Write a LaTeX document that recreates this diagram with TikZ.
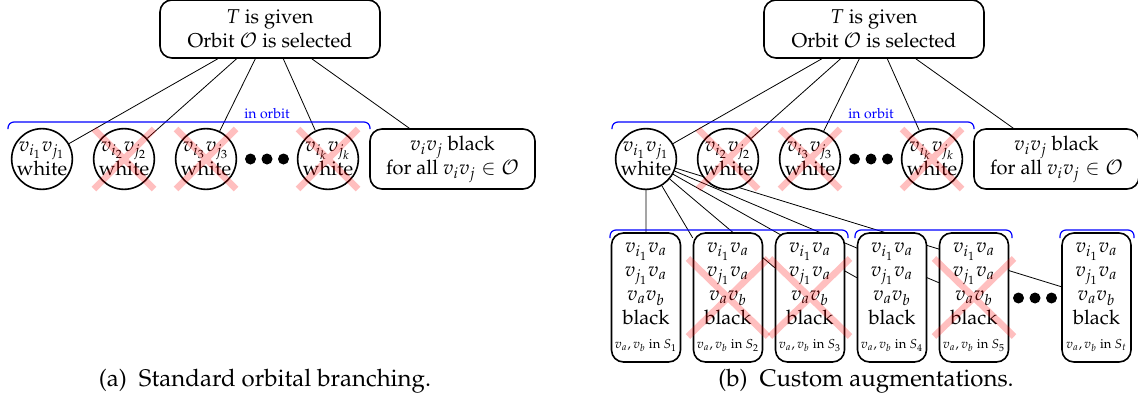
\documentclass[tikz,border=0pt]{standalone}
\usepackage{amsmath, amssymb}
\usepackage[T1]{fontenc}
\usepackage{mathpazo}
\usepackage{tikz}
\usetikzlibrary{backgrounds}

\newcommand{\augtiny}{\fontsize{6.5}{7.5}\selectfont}

\tikzset{
    topbox/.style={draw, thick, rounded corners=6pt, fill=white, align=center,
        minimum width=110pt, minimum height=29pt, inner sep=2pt},
    wnode/.style={draw, thick, circle, fill=white, align=center,
        minimum size=30pt, inner sep=0pt},
    blkbox/.style={draw, thick, rounded corners=6pt, fill=white, align=center,
        minimum width=82.5pt, minimum height=30pt},
    augbox/.style={draw, thick, rounded corners=6pt, fill=white, align=center,
        minimum width=34.5pt, minimum height=64.5pt, inner sep=1pt},
    orbitbrace/.style={blue, semithick, rounded corners=3pt},
    crossout/.style={red, opacity=0.25, line width=3.3pt},
    subcap/.style={font=\fontsize{12}{14}\selectfont},
}

\begin{document}
\begin{tikzpicture}[x=5pt, y=5pt]
    \useasboundingbox (0,0) rectangle (113.8,40.8);

    % (a) standard orbital branching
    \begin{scope}
        \node[topbox] (a-top) at (27.0,37.9) {$T$ is given\\Orbit $\mathcal{O}$ is selected};
        \node[wnode] (a-c1) at (4.2,24.9) {$v_{i_1}v_{j_1}$\\white};
        \node[wnode] (a-c2) at (12.4,24.9) {$v_{i_2}v_{j_2}$\\white};
        \node[wnode] (a-c3) at (20.6,24.9) {$v_{i_3}v_{j_3}$\\white};
        \node[wnode] (a-ck) at (32.8,24.9) {$v_{i_k}v_{j_k}$\\white};
        \node[blkbox] (a-blk) at (45.25,24.9) {$v_iv_j$ black\\for all $v_iv_j \in \mathcal{O}$};
        \fill (25.05,24.9) circle (0.55) (26.7,24.9) circle (0.55) (28.35,24.9) circle (0.55);

        \begin{pgfonlayer}{background}
            \draw (a-top) -- (a-c1) (a-top) -- (a-c2) (a-top) -- (a-c3)
                  (a-top) -- (a-ck) (a-top) -- (a-blk);
        \end{pgfonlayer}

        % orbit
        \draw[orbitbrace] (0.8,27.9) -- (0.8,28.6) -- (37.0,28.6) -- (37.0,27.9);
        \node[blue, font=\scriptsize] (a-orb) at (26.7,29.4) {in orbit};

        % pruned
        \draw[crossout] (a-c2) +(-3,3) -- +(3,-3) +(-3,-3) -- +(3,3);
        \draw[crossout] (a-c3) +(-3,3) -- +(3,-3) +(-3,-3) -- +(3,3);
        \draw[crossout] (a-ck) +(-3,3) -- +(3,-3) +(-3,-3) -- +(3,3);

        \node[subcap] (a-cap) at (26.5,2.7) {(a)\enspace Standard orbital branching.};
    \end{scope}

    % (b) custom augmentations
    \begin{scope}[xshift=302pt]
        \node[topbox] (b-top) at (27.0,37.9) {$T$ is given\\Orbit $\mathcal{O}$ is selected};
        \node[wnode] (b-c1) at (4.2,24.9) {$v_{i_1}v_{j_1}$\\white};
        \node[wnode] (b-c2) at (12.4,24.9) {$v_{i_2}v_{j_2}$\\white};
        \node[wnode] (b-c3) at (20.6,24.9) {$v_{i_3}v_{j_3}$\\white};
        \node[wnode] (b-ck) at (32.8,24.9) {$v_{i_k}v_{j_k}$\\white};
        \node[blkbox] (b-blk) at (45.25,24.9) {$v_iv_j$ black\\for all $v_iv_j \in \mathcal{O}$};
        \fill (25.05,24.9) circle (0.55) (26.7,24.9) circle (0.55) (28.35,24.9) circle (0.55);

        % augmentations
        \node[augbox] (b-s1) at (4.2,11.05) {$v_{i_1}v_a$\\$v_{j_1}v_a$\\$v_av_b$\\black\\{\augtiny $v_a,v_b$ in $S_1$}};
        \node[augbox] (b-s2) at (12.4,11.05) {$v_{i_1}v_a$\\$v_{j_1}v_a$\\$v_av_b$\\black\\{\augtiny $v_a,v_b$ in $S_2$}};
        \node[augbox] (b-s3) at (20.6,11.05) {$v_{i_1}v_a$\\$v_{j_1}v_a$\\$v_av_b$\\black\\{\augtiny $v_a,v_b$ in $S_3$}};
        \node[augbox] (b-s4) at (28.8,11.05) {$v_{i_1}v_a$\\$v_{j_1}v_a$\\$v_av_b$\\black\\{\augtiny $v_a,v_b$ in $S_4$}};
        \node[augbox] (b-s5) at (37.0,11.05) {$v_{i_1}v_a$\\$v_{j_1}v_a$\\$v_av_b$\\black\\{\augtiny $v_a,v_b$ in $S_5$}};
        \node[augbox] (b-st) at (49.25,11.05) {$v_{i_1}v_a$\\$v_{j_1}v_a$\\$v_av_b$\\black\\{\augtiny $v_a,v_b$ in $S_t$}};
        \fill (41.45,11.0) circle (0.55) (43.1,11.0) circle (0.55) (44.75,11.0) circle (0.55);

        \begin{pgfonlayer}{background}
            \draw (b-top) -- (b-c1) (b-top) -- (b-c2) (b-top) -- (b-c3)
                  (b-top) -- (b-ck) (b-top) -- (b-blk);
            \draw (b-c1) -- (b-s1) (b-c1) -- (b-s2) (b-c1) -- (b-s3)
                  (b-c1) -- (b-s4) (b-c1) -- (b-s5) (b-c1) -- (b-st);
        \end{pgfonlayer}

        % orbit and symmetric groups of augmentations
        \draw[orbitbrace] (0.8,27.9) -- (0.8,28.6) -- (37.0,28.6) -- (37.0,27.9);
        \node[blue, font=\scriptsize] (b-orb) at (26.7,29.4) {in orbit};
        \draw[orbitbrace] (0.6,17.0) -- (0.6,17.8) -- (24.4,17.8) -- (24.4,17.0);
        \draw[orbitbrace] (25.1,17.0) -- (25.1,17.8) -- (40.8,17.8) -- (40.8,17.0);
        \draw[orbitbrace] (45.6,17.0) -- (45.6,17.8) -- (53.0,17.8) -- (53.0,17.0);

        % pruned
        \draw[crossout] (b-c2) +(-3,3) -- +(3,-3) +(-3,-3) -- +(3,3);
        \draw[crossout] (b-c3) +(-3,3) -- +(3,-3) +(-3,-3) -- +(3,3);
        \draw[crossout] (b-ck) +(-3,3) -- +(3,-3) +(-3,-3) -- +(3,3);
        \draw[crossout] (b-s2) +(-4,3.9) -- +(4,-3.9) +(-4,-3.9) -- +(4,3.9);
        \draw[crossout] (b-s3) +(-4,3.9) -- +(4,-3.9) +(-4,-3.9) -- +(4,3.9);
        \draw[crossout] (b-s5) +(-4,3.9) -- +(4,-3.9) +(-4,-3.9) -- +(4,3.9);

        \node[subcap] (b-cap) at (26.2,2.7) {(b)\enspace Custom augmentations.};
    \end{scope}
\end{tikzpicture}
\end{document}
